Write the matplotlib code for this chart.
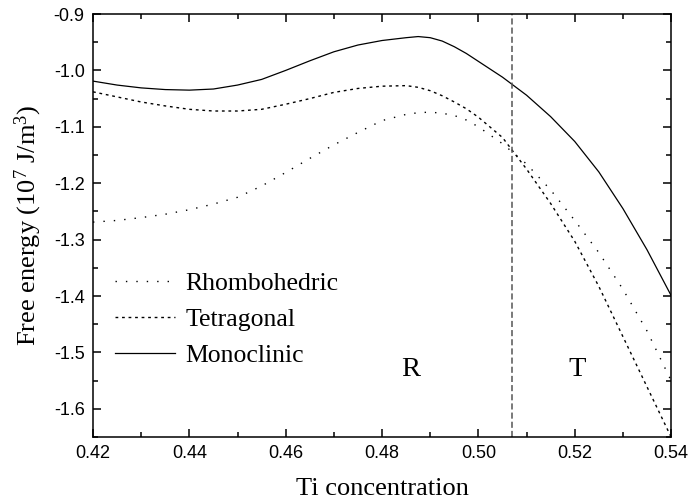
import numpy as np
import matplotlib
matplotlib.use('Agg')
import matplotlib.pyplot as plt
from matplotlib.ticker import MultipleLocator, FormatStrFormatter

plt.rcParams['mathtext.fontset'] = 'custom'
plt.rcParams['mathtext.rm'] = 'Liberation Serif'
plt.rcParams['mathtext.it'] = 'Liberation Serif:italic'
plt.rcParams['mathtext.default'] = 'rm'

# Ti concentration
x = [0.42, 0.425, 0.43, 0.435, 0.44, 0.445, 0.45, 0.455, 0.46, 0.465,
     0.47, 0.475, 0.48, 0.485, 0.4875, 0.49, 0.4925, 0.495, 0.4975, 0.50,
     0.505, 0.51, 0.515, 0.52, 0.525, 0.53, 0.535, 0.54]

rhombo = [-1.269, -1.266, -1.261, -1.255, -1.247, -1.237, -1.225, -1.205, -1.181, -1.156,
          -1.132, -1.110, -1.089, -1.078, -1.075, -1.074, -1.076, -1.080, -1.088, -1.100,
          -1.130, -1.166, -1.212, -1.266, -1.323, -1.388, -1.462, -1.550]

tetra = [-1.038, -1.047, -1.056, -1.063, -1.069, -1.072, -1.072, -1.069, -1.060, -1.050,
         -1.039, -1.032, -1.028, -1.027, -1.030, -1.036, -1.045, -1.056, -1.068, -1.083,
         -1.119, -1.175, -1.236, -1.303, -1.383, -1.472, -1.561, -1.650]

mono = [-1.019, -1.026, -1.031, -1.034, -1.035, -1.033, -1.026, -1.016, -1.000, -0.983,
        -0.967, -0.955, -0.947, -0.942, -0.940, -0.942, -0.948, -0.958, -0.970, -0.984,
        -1.012, -1.044, -1.082, -1.126, -1.180, -1.245, -1.318, -1.399]

boundary = 0.507

fig = plt.figure(figsize=(6.89, 5.0), dpi=100)
ax = fig.add_axes([0.135, 0.126, 0.839, 0.846])

ax.plot(x, rhombo, color='black', lw=1.0, linestyle=(0, (1, 6.5)), label='Rhombohedric')
ax.plot(x, tetra, color='black', lw=1.0, linestyle=(0, (2, 2.7)), label='Tetragonal')
ax.plot(x, mono, color='black', lw=0.9, linestyle='-', label='Monoclinic')
ax.axvline(boundary, color='#555555', lw=1.1, linestyle=(0, (4, 2)))

ax.set_xlim(0.42, 0.54)
ax.set_ylim(-1.65, -0.9)
ax.xaxis.set_major_locator(MultipleLocator(0.02))
ax.xaxis.set_minor_locator(MultipleLocator(0.01))
ax.yaxis.set_major_locator(MultipleLocator(0.1))
ax.yaxis.set_minor_locator(MultipleLocator(0.05))
ax.xaxis.set_major_formatter(FormatStrFormatter('%.2f'))
ax.yaxis.set_major_formatter(FormatStrFormatter('%.1f'))

ax.tick_params(which='both', direction='in', top=True, right=True, width=1.1)
ax.tick_params(which='major', length=6, pad=6)
ax.tick_params(which='minor', length=3.5)
for lab in ax.get_xticklabels() + ax.get_yticklabels():
    lab.set_fontfamily('Liberation Sans')
    lab.set_fontsize(13)
for s in ax.spines.values():
    s.set_linewidth(1.1)

ax.set_xlabel('Ti concentration', family='Liberation Serif', fontsize=19, labelpad=11)
ax.set_ylabel('Free energy (10$^{7}$ J/m$^{3}$)', family='Liberation Serif', fontsize=19, labelpad=7)

ax.text(0.4860, -1.530, 'R', family='Liberation Serif', fontsize=20.5, ha='center', va='center')
ax.text(0.5205, -1.530, 'T', family='Liberation Serif', fontsize=20.5, ha='center', va='center')

ax.legend(loc='upper left', bbox_to_anchor=(0.038, 0.39), frameon=False, borderpad=0,
          borderaxespad=0, handlelength=2.35, handletextpad=0.4, labelspacing=0.5,
          prop={'family': 'Liberation Serif', 'size': 18.5})

fig.savefig('out.png', dpi=100)
